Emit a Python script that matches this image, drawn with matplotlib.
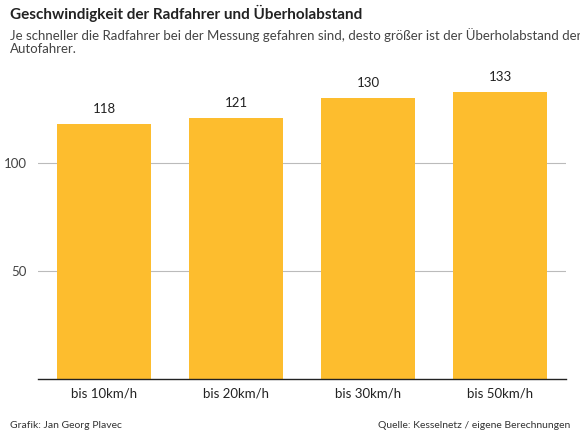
import matplotlib.pyplot as plt

categories = ["bis 10km/h", "bis 20km/h", "bis 30km/h", "bis 50km/h"]
values = [118, 121, 130, 133]
yticks = [50, 100]

plt.rcParams['font.family'] = ['Lato', 'DejaVu Sans']

fig = plt.figure(figsize=(5.8, 4.41), dpi=100)
# axes: x 38..566, y 75..379 (pixels from top)
ax = fig.add_axes([38/580, 1 - 379/441, 528/580, 304/441])

x = range(len(categories))
ax.bar(x, values, width=0.71, color="#fdbd2e", zorder=2)
for xi, v in zip(x, values):
    ax.text(xi, v + 4, str(v), ha="center", va="bottom", fontsize=9.5, color="#222222")

ax.set_xlim(-0.5, 3.5)
ax.set_ylim(0, 140.7)
ax.set_yticks(yticks)
ax.set_xticks(list(x))
ax.set_xticklabels(categories, fontsize=9.5, color="#222222")
ax.tick_params(axis="y", length=0, labelsize=9.5, labelcolor="#444444", pad=8)
ax.tick_params(axis="x", length=0, pad=6)
ax.grid(axis="y", color="#bbbbbb", linewidth=0.8, zorder=0)
for s in ["top", "right", "left"]:
    ax.spines[s].set_visible(False)
ax.spines["bottom"].set_color("#222222")
ax.spines["bottom"].set_linewidth(1)

fig.text(10/580, 1 - 13/441, "Geschwindigkeit der Radfahrer und Überholabstand",
         fontsize=11, fontweight="bold", color="#222222", va="center")
fig.text(10/580, 1 - 42/441,
         "Je schneller die Radfahrer bei der Messung gefahren sind, desto größer ist der Überholabstand der\nAutofahrer.",
         fontsize=9.5, color="#444444", va="center", linespacing=1.1)
fig.text(10/580, 1 - 425/441, "Grafik: Jan Georg Plavec", fontsize=7.5, color="#333333", va="center")
fig.text(570/580, 1 - 425/441, "Quelle: Kesselnetz / eigene Berechnungen", fontsize=7.5,
         color="#333333", va="center", ha="right")

fig.savefig("out.png", dpi=100)
